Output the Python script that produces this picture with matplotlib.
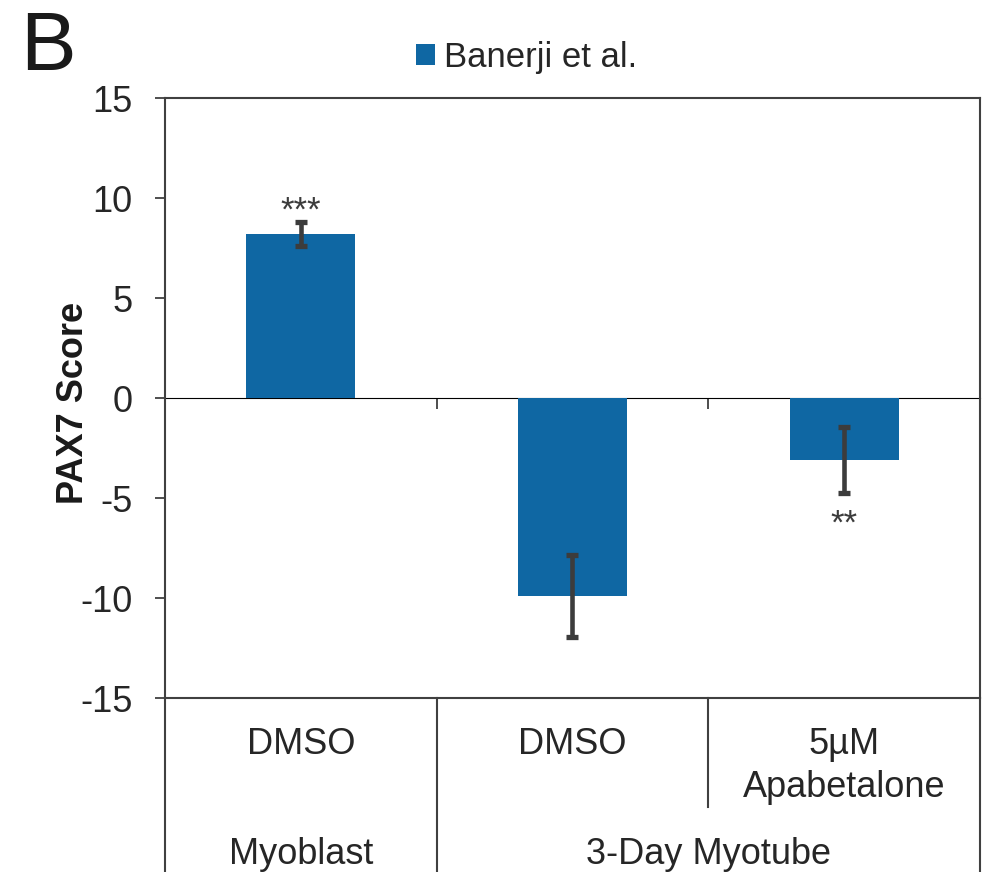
import matplotlib as mpl; mpl.use('Agg')
import matplotlib.pyplot as plt
import matplotlib.transforms as mtransforms

mpl.rcParams.update({'font.family': ['Liberation Sans', 'DejaVu Sans'], 'text.color': '#262626',
                     'axes.unicode_minus': False})

# data
conditions = ['DMSO', 'DMSO', '5µM\nApabetalone']
groups = ['Myoblast', '3-Day Myotube']
group_span = [(0, 0), (1, 2)]          # category indices covered by each group
scores = [8.2, -9.9, -3.1]
errors = [0.6, 2.05, 1.65]
stars = ['***', '', '**']
series = 'Banerji et al.'

BLUE = '#0f67a3'; DARK = '#3c3c3c'; LINE = '#404040'
x = list(range(len(scores)))

fig = plt.figure(figsize=(9.87, 8.72), dpi=100)
ax = fig.add_axes([165/987, 1 - 698/872, 815/987, 600/872])

ax.bar(x, scores, width=0.4, color=BLUE, label=series, zorder=2)
ax.errorbar(x, scores, yerr=errors, fmt='none', ecolor=DARK, elinewidth=3.3,
            capsize=4.6, capthick=3.8, zorder=3)

# significance marks: above the upper whisker for positive bars, below for negative
for xi, v, e, s in zip(x, scores, errors, stars):
    if not s:
        continue
    if v > 0:
        ax.annotate(s, (xi, v + e), xytext=(0, 1), textcoords='offset points',
                    ha='center', va='baseline', fontsize=25, color=DARK)
    else:
        ax.annotate(s, (xi, v - e), xytext=(0, -29), textcoords='offset points',
                    ha='center', va='baseline', fontsize=25, color=DARK)

ax.set_xlim(-0.5, len(scores) - 0.5)
ax.set_ylim(-15, 15)
ax.set_yticks([15, 10, 5, 0, -5, -10, -15])
ax.tick_params(axis='y', direction='out', length=7.5, width=1.3, color=LINE,
               pad=16, labelsize=26, labelcolor='#262626')
ax.tick_params(axis='x', length=0, labelbottom=False)
for sp in ax.spines.values():
    sp.set_color(LINE); sp.set_linewidth(1.5)

# zero line with boundary ticks between categories
zax = ax.secondary_xaxis(0.5)
zax.set_xticks([i + 0.5 for i in x[:-1]])
zax.set_xticklabels([])
zax.tick_params(direction='in', length=8, width=1.3, color=LINE)
zax.spines['bottom'].set_color(LINE); zax.spines['bottom'].set_linewidth(2.2)

# category table under the axis
tr = mtransforms.blended_transform_factory(ax.transData, ax.transAxes)
px = 1 / 600                             # one pixel in axes-height units
bottom = -(872 - 698) * px
for b in [-0.5, 2.5]:
    ax.plot([b, b], [0, bottom], transform=tr, color=LINE, lw=1.5, clip_on=False)
for g0, g1 in group_span[:-1]:
    ax.plot([g1 + 0.5, g1 + 0.5], [0, bottom], transform=tr, color=LINE, lw=1.5, clip_on=False)
for g0, g1 in group_span:
    for i in range(g0, g1):
        ax.plot([i + 0.5, i + 0.5], [0, -(807 - 698) * px], transform=tr,
                color=LINE, lw=1.5, clip_on=False)

for xi, lab in zip(x, conditions):
    for k, line in enumerate(lab.split('\n')):
        ax.text(xi, -(754 - 698 + 43 * k) * px, line, transform=tr, ha='center',
                va='baseline', fontsize=26)
for (g0, g1), g in zip(group_span, groups):
    ax.text((g0 + g1) / 2, -(864 - 698) * px, g, transform=tr, ha='center',
            va='baseline', fontsize=26)

fig.text(74/987, 1 - 403/872, 'PAX7 Score', rotation=90, ha='center', va='center',
         fontsize=26, fontweight='bold', color='#1a1a1a')
fig.text(20/987, 1 - 70/872, 'B', fontsize=60, va='baseline', color='#1a1a1a')

ax.legend(loc='center left', bbox_to_anchor=(416/987, 1 - 57/872), bbox_transform=fig.transFigure,
          frameon=False, fontsize=25, borderpad=0, borderaxespad=0,
          handlelength=0.55, handleheight=0.55, handletextpad=0.25)

fig.savefig('out.png', dpi=100)
